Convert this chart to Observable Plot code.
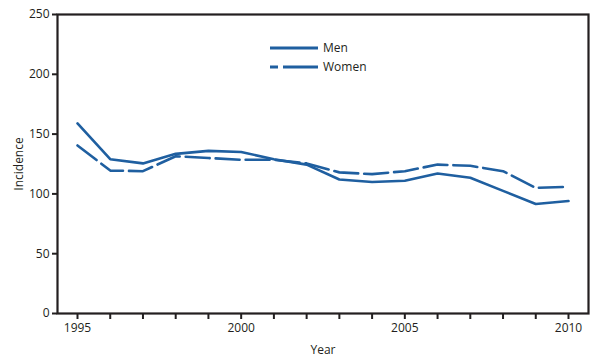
<!DOCTYPE html>
<html>
<head>
<meta charset="utf-8">
<script src="https://cdn.jsdelivr.net/npm/d3@7"></script>
<script src="https://cdn.jsdelivr.net/npm/@observablehq/plot@0.6"></script>
<style>
  body { margin: 0; background: #fff; }
  #wrap { position: relative; width: 616px; height: 357px; font-family: "Open Sans", sans-serif; }
  #legend { position: absolute; left: 270px; top: 38px; font-size: 12px; color: #231f20; }
  #legend div { display: flex; align-items: center; height: 19px; }
  #legend svg { margin-right: 5px; }
</style>
</head>
<body>
<div id="wrap">
  <div id="chart"></div>
  <div id="legend"></div>
</div>
<script>
const years = [1995,1996,1997,1998,1999,2000,2001,2002,2003,2004,2005,2006,2007,2008,2009,2010];
const men   = [159,129,125.5,133.5,136,135,129,124.5,112,110,111,117,113.5,102.5,91.5,94];
const women = [140.5,119.5,119,131.5,130,128.5,128.5,125.5,118,116.5,119,124.5,123.5,119,105,106];
const seriesNames = ["Men","Women"];
const yTicks = [0,50,100,150,200,250];
const xLabelTicks = [1995,2000,2005,2010];

const color = "#1f5fa0";
const dashes = { Men: null, Women: "24,6" };

const data = [];
years.forEach((y,i) => {
  data.push({year: y, value: men[i], series: "Men"});
  data.push({year: y, value: women[i], series: "Women"});
});

const chart = Plot.plot({
  width: 616,
  height: 357,
  marginLeft: 57,
  marginRight: 28,
  marginTop: 14,
  marginBottom: 44,
  style: { fontFamily: "Open Sans, sans-serif", fontSize: "12px", color: "#231f20", background: "#fff" },
  x: { domain: [1995, 2010], insetLeft: 20, insetRight: 20 },
  y: { domain: [0, 250] },
  marks: [
    Plot.axisX({ticks: years, tickFormat: d => xLabelTicks.includes(d) ? String(d) : "", tickSize: 6, tickPadding: 4, strokeWidth: 2, label: "Year", labelAnchor: "center", labelOffset: 40, labelArrow: "none", fontSize: 12}),
    Plot.axisY({ticks: yTicks, tickSize: 5, tickPadding: 3, strokeWidth: 2, label: "Incidence", labelAnchor: "center", labelOffset: 43, labelArrow: "none", fontSize: 12}),
    ...seriesNames.map(s => Plot.line(data.filter(d => d.series === s), {
      x: "year", y: "value", stroke: color, strokeWidth: 2.6,
      strokeDasharray: dashes[s], strokeLinejoin: "miter"
    })),
    Plot.frame({stroke: "#231f20", strokeWidth: 2.2})
  ]
});
document.getElementById("chart").appendChild(chart);

const legend = document.getElementById("legend");
seriesNames.forEach(s => {
  const row = document.createElement("div");
  row.innerHTML = `<svg width="48" height="6"><line x1="0" x2="48" y1="3" y2="3" stroke="${color}" stroke-width="3" ${s === "Women" ? 'stroke-dasharray="8,5,40"' : ""}/></svg><span>${s}</span>`;
  legend.appendChild(row);
});
</script>
</body>
</html>
